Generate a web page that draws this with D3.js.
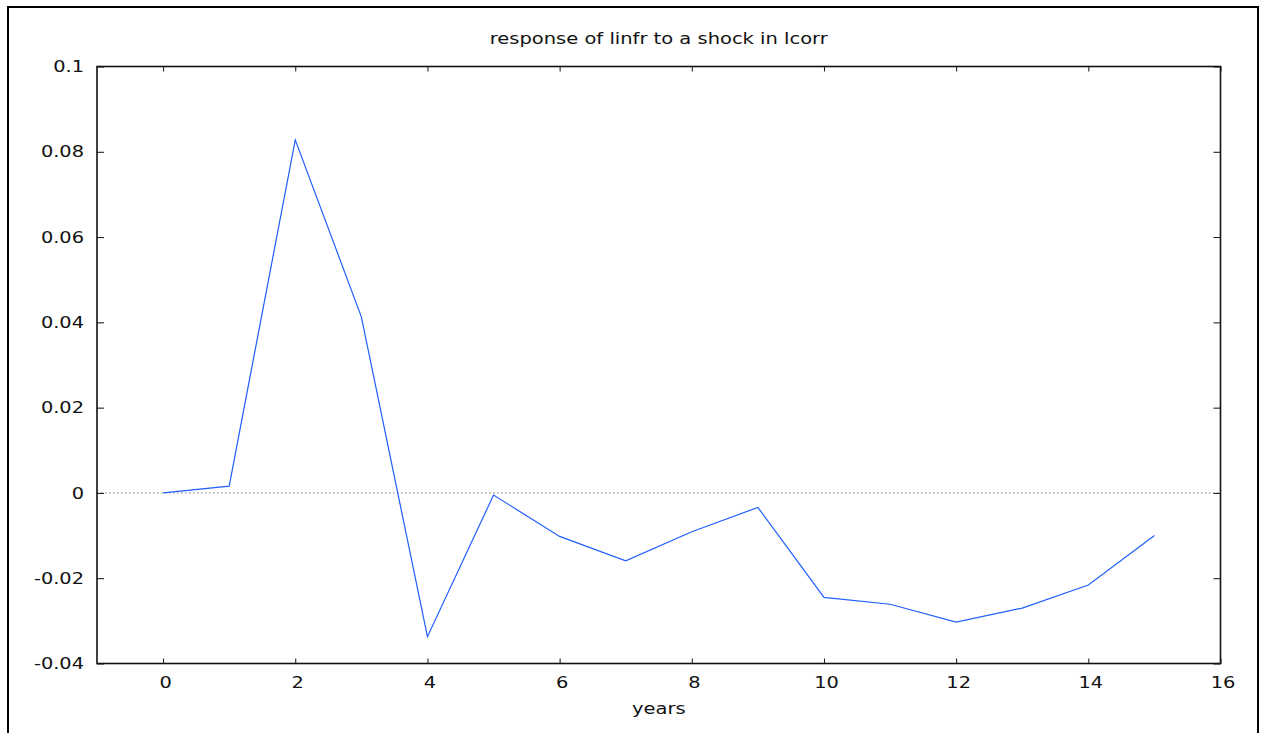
<!DOCTYPE html>
<html>
<head>
<meta charset="utf-8">
<script src="https://cdn.jsdelivr.net/npm/d3@7"></script>
<style>
  html, body { margin: 0; padding: 0; background: #fff; }
  svg { display: block; }
  text { font-family: "DejaVu Sans", Verdana, sans-serif; fill: #111; }
</style>
</head>
<body>
<svg id="chart" width="1261" height="733"></svg>
<script>
// Impulse response: years after the shock and response of linfr
const years = [0, 1, 2, 3, 4, 5, 6, 7, 8, 9, 10, 11, 12, 13, 14, 15];
const response = [0, 0.0016, 0.0828, 0.0413, -0.0337, -0.0005, -0.0102, -0.0159,
                  -0.0091, -0.0034, -0.0245, -0.0261, -0.0303, -0.0270, -0.0216, -0.0100];

const xTicks = [0, 2, 4, 6, 8, 10, 12, 14, 16];
const xTickLabels = ["0", "2", "4", "6", "8", "10", "12", "14", "16"];
const yTicks = [-0.04, -0.02, 0, 0.02, 0.04, 0.06, 0.08, 0.1];
const yTickLabels = ["-0.04", "-0.02", "0", "0.02", "0.04", "0.06", "0.08", "0.1"];

const titleText = "response of linfr to a shock in lcorr";
const xLabelText = "years";

const svg = d3.select("#chart");
const plot = { left: 97, right: 1220.5, top: 66.5, bottom: 663.5 };

const x = d3.scaleLinear().domain([-1, 16]).range([plot.left, plot.right]);
const y = d3.scaleLinear().domain([-0.04, 0.1]).range([plot.bottom, plot.top]);

// outer frame
svg.append("rect")
  .attr("x", 8).attr("y", 7)
  .attr("width", 1250).attr("height", 760)
  .attr("fill", "none").attr("stroke", "#000").attr("stroke-width", 2);

// zero reference line
svg.append("line")
  .attr("x1", plot.left).attr("x2", plot.right)
  .attr("y1", y(0)).attr("y2", y(0))
  .attr("stroke", "#777").attr("stroke-width", 1)
  .attr("stroke-dasharray", "1.5,2.5");

// inward ticks on all four sides
function ticks(axis, transform) {
  const g = svg.append("g").attr("transform", transform).call(axis);
  g.select(".domain").remove();
  g.selectAll(".tick line").attr("stroke", "#111").attr("stroke-width", 1);
  g.selectAll(".tick text").remove();
  return g;
}
ticks(d3.axisBottom(x).tickValues(xTicks).tickSize(-5), `translate(0,${plot.bottom})`);
ticks(d3.axisTop(x).tickValues(xTicks).tickSize(-5), `translate(0,${plot.top})`);
ticks(d3.axisLeft(y).tickValues(yTicks).tickSize(-7), `translate(${plot.left},0)`);
ticks(d3.axisRight(y).tickValues(yTicks).tickSize(-7), `translate(${plot.right},0)`);

// plot border
svg.append("rect")
  .attr("x", plot.left).attr("y", plot.top)
  .attr("width", plot.right - plot.left).attr("height", plot.bottom - plot.top)
  .attr("fill", "none").attr("stroke", "#111").attr("stroke-width", 1.6);

// tick labels (wide lettering)
svg.append("g").selectAll("text")
  .data(xTicks)
  .join("text")
  .attr("transform", d => `translate(${x(d) + 2.5},688) scale(1.25,1)`)
  .attr("text-anchor", "middle")
  .style("font-size", "15.5px")
  .text((d, i) => xTickLabels[i]);

svg.append("g").selectAll("text")
  .data(yTicks)
  .join("text")
  .attr("transform", d => `translate(84,${y(d)}) scale(1.25,1)`)
  .attr("dy", "0.36em")
  .attr("text-anchor", "end")
  .style("font-size", "15.5px")
  .text((d, i) => yTickLabels[i]);

// title and axis label
svg.append("text")
  .attr("transform", `translate(${(plot.left + plot.right) / 2},44) scale(1.3,1)`)
  .attr("text-anchor", "middle")
  .style("font-size", "15px")
  .text(titleText);

svg.append("text")
  .attr("transform", `translate(${(plot.left + plot.right) / 2},714) scale(1.3,1)`)
  .attr("text-anchor", "middle")
  .style("font-size", "15px")
  .text(xLabelText);

// response line
const line = d3.line()
  .x((d, i) => x(years[i]))
  .y(d => y(d));

svg.append("path")
  .datum(response)
  .attr("d", line)
  .attr("fill", "none")
  .attr("stroke", "#1f5fff")
  .attr("stroke-width", 1.2);
</script>
</body>
</html>
